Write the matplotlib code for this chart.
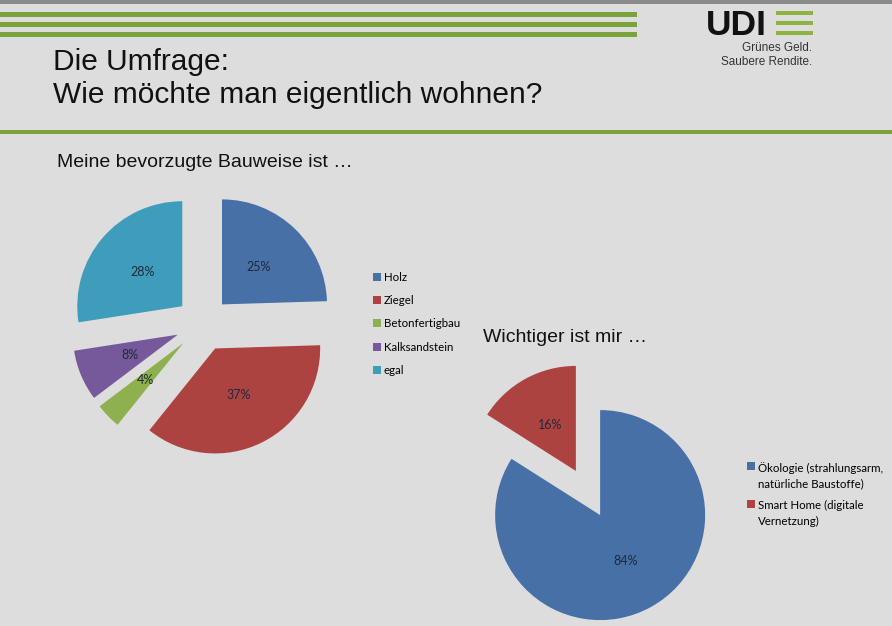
import matplotlib
matplotlib.use("Agg")
import matplotlib.pyplot as plt
from matplotlib.patches import Rectangle

# survey data
bauweise_labels = ["Holz", "Ziegel", "Betonfertigbau", "Kalksandstein", "egal"]
bauweise_values = [25, 37, 4, 8, 28]
bauweise_colors = ["#4670a6", "#ad4341", "#8fb04f", "#76599a", "#3e9dbb"]

wichtig_labels = ["Ökologie (strahlungsarm,\nnatürliche Baustoffe)",
                  "Smart Home (digitale\nVernetzung)"]
wichtig_values = [84, 16]
wichtig_colors = ["#4670a6", "#ad4341"]

W, H = 892, 626
BG = "#dddddd"
GREEN = "#7aa33c"
SANS = ["Liberation Sans", "DejaVu Sans"]
BODY = ["Lato", "DejaVu Sans"]


def fx(x):
    return x / W


def fy(y):
    return 1 - y / H


def bar(x0, y0, x1, y1, color):
    fig.add_artist(Rectangle((fx(x0), fy(y1)), fx(x1) - fx(x0), fy(y0) - fy(y1),
                             transform=fig.transFigure, color=color, lw=0))


fig = plt.figure(figsize=(W / 100, H / 100), dpi=100, facecolor=BG)

# slide decoration
bar(0, 0, W, 4, "#8a8a8a")
for y in (12, 22, 32):
    bar(0, y, 637, y + 4.5, GREEN)
bar(0, 130, W, 134, GREEN)

# logo
fig.text(fx(706), fy(35), "UDI", family=SANS, weight="bold", fontsize=25.5,
         color="#111111", va="baseline")
for y in (11, 21, 31):
    bar(776, y, 813, y + 4, "#8db43e")
fig.text(fx(812), fy(51), "Grünes Geld.", family=SANS, fontsize=8.5,
         color="#333333", ha="right", va="baseline")
fig.text(fx(812), fy(65), "Saubere Rendite.", family=SANS, fontsize=8.5,
         color="#333333", ha="right", va="baseline")

# titles
fig.text(fx(53), fy(70), "Die Umfrage:", family=SANS, fontsize=21.5,
         color="#111111", va="baseline")
fig.text(fx(53), fy(103), "Wie möchte man eigentlich wohnen?", family=SANS,
         fontsize=21.5, color="#111111", va="baseline")
fig.text(fx(57), fy(167), "Meine bevorzugte Bauweise ist …", family=SANS,
         fontsize=14, color="#111111", va="baseline")
fig.text(fx(483), fy(342), "Wichtiger ist mir …", family=SANS,
         fontsize=14, color="#111111", va="baseline")


def pie_axes(cx, cy):
    # 1 data unit = 105 px, axes 2.8 units wide
    s = 294
    ax = fig.add_axes([fx(cx - s / 2), fy(cy + s / 2), s / W, s / H])
    return ax


def finish(ax):
    ax.set_xlim(-1.4, 1.4)
    ax.set_ylim(-1.4, 1.4)
    ax.set_aspect("equal")
    ax.axis("off")


pct_style = dict(family=BODY, fontsize=9, color="#1e2a3a")

# pie 1
ax1 = pie_axes(203, 324)
tot1 = sum(bauweise_values)
w1, _, t1 = ax1.pie(bauweise_values, colors=bauweise_colors, startangle=90,
                    counterclock=False, explode=[0.26] * len(bauweise_values),
                    autopct=lambda p: f"{p * tot1 / 100:.0f}%", pctdistance=0.5,
                    wedgeprops=dict(linewidth=0), textprops=pct_style)
finish(ax1)

# pie 2
ax2 = pie_axes(588, 493)
tot2 = sum(wichtig_values)
w2, _, t2 = ax2.pie(wichtig_values, colors=wichtig_colors, startangle=90,
                    counterclock=False, explode=[0.24] * len(wichtig_values),
                    autopct=lambda p: f"{p * tot2 / 100:.0f}%", pctdistance=0.5,
                    wedgeprops=dict(linewidth=0), textprops=pct_style)
finish(ax2)

leg_kw = dict(frameon=False, loc="upper left", borderpad=0, borderaxespad=0,
              handlelength=0.7, handleheight=0.7, handletextpad=0.25,
              prop=dict(family=BODY, size=8.3))
fig.legend(w1, bauweise_labels, bbox_to_anchor=(fx(373), fy(272)),
           labelspacing=1.06, **leg_kw)
leg2 = fig.legend(w2, wichtig_labels, bbox_to_anchor=(fx(747), fy(462)),
                  labelspacing=0.95, **leg_kw)
for t in leg2.get_texts():
    t.set_linespacing(1.5)
# square next to the first line of each two-line label
for col in leg2._legend_handle_box.get_children():
    for row in col.get_children():
        row.align = "top"

fig.savefig("out.png", dpi=100, facecolor=BG)
